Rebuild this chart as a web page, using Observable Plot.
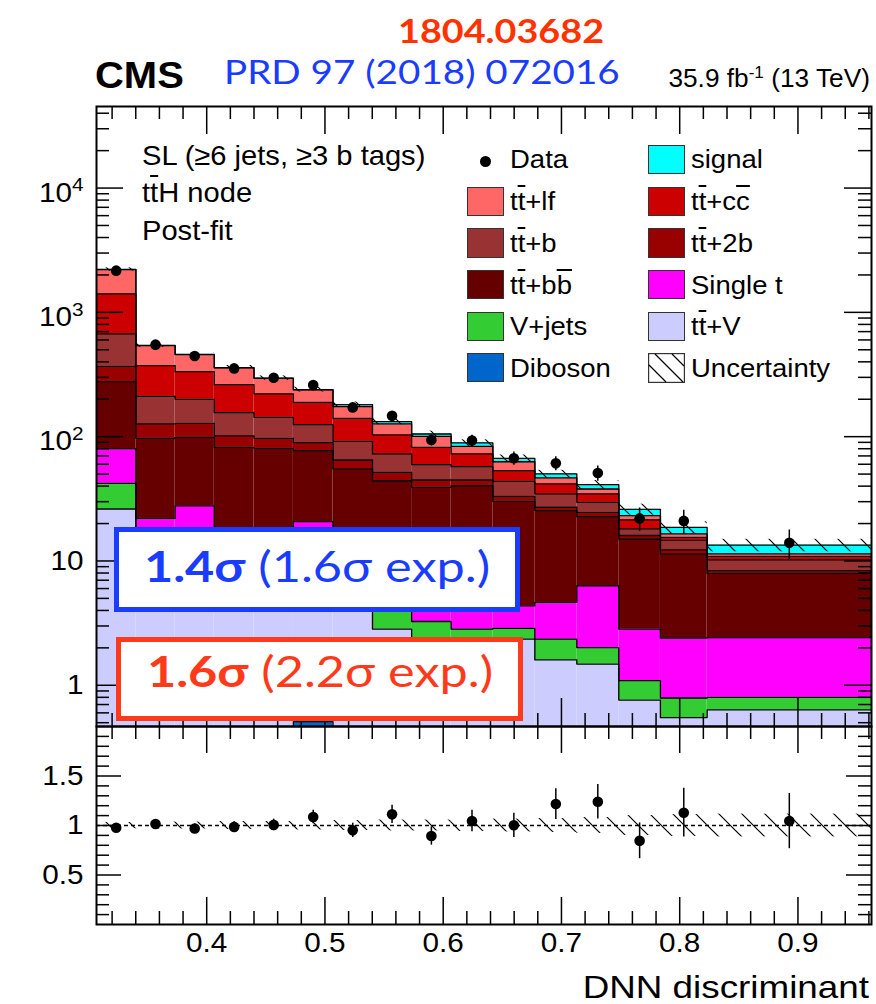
<!DOCTYPE html>
<html>
<head>
<meta charset="utf-8">
<script src="https://cdn.jsdelivr.net/npm/d3@7"></script>
<script src="https://cdn.jsdelivr.net/npm/@observablehq/plot@0.6"></script>
<style>
  html, body { margin: 0; padding: 0; background: #fff; }
  #wrap { position: relative; width: 876px; height: 1004px; overflow: hidden; background: #fff;
          font-family: "Liberation Sans", Arial, sans-serif; }
  #wrap svg.plotsvg { position: absolute; left: 0; }
  .abs { position: absolute; white-space: nowrap; line-height: 1; }
  .ob { text-decoration: overline; text-decoration-thickness: 1.5px; }
  .lbox { position: absolute; box-sizing: border-box; border: 1.2px solid #333; }
  .sbox { position: absolute; box-sizing: border-box; background: #fff; }
</style>
</head>
<body>
<div id="wrap"></div>
<svg width="0" height="0" style="position:absolute">
  <defs>
    <pattern id="hatch" patternUnits="userSpaceOnUse" width="23" height="23">
      <path d="M-3,-3 L26,26 M-3,20 L3,26 M20,-3 L26,3" stroke="#000" stroke-width="1.2" fill="none"/>
    </pattern>
  </defs>
</svg>
<script>
// ---------------- data ----------------
const binEdges = [0.3068, 0.3401, 0.3733, 0.4064, 0.4400, 0.4733, 0.5068, 0.5402, 0.5733,
                  0.6067, 0.6420, 0.6775, 0.7130, 0.7485, 0.7837, 0.8232, 0.9622];
// stacked yields, bottom to top
const yieldDiboson = [0.2, 0.2, 0.2, 0.2, 0.2, 0.51, 0.2, 0.2, 0.15, 0.15, 0.15, 0.1, 0.1, 0.1, 0.1, 0.1];
const yieldTTV     = [26.0, 9.8, 7.8, 7.3, 6.8, 6.0, 4.8, 2.63, 2.15, 2.05, 2.2, 1.5, 1.38, 0.66, 0.45, 0.535];
const yieldVJets   = [15.9, 4.0, 3.0, 2.5, 2.0, 2.5, 2.0, 2.17, 0.96, 0.63, 0.52, 0.75, 0.53, 0.33, 0.24, 0.165];
const yieldSingleT = [38.0, 8.0, 16.8, 5.0, 5.0, 11.7, 5.0, 4.0, 2.24, 1.77, 1.49, 2.29, 4.31, 1.74, 1.61, 1.62];
const yieldTTbb    = [196.9, 74.9, 70.9, 67.0, 66.5, 56.5, 43.0, 35.2, 33.6, 35.7, 25.8, 20.8, 16.4, 12.2, 9.0, 5.52];
const yieldTT2b    = [91, 29.7, 29.2, 19.3, 16.4, 12.3, 9.9, 7.4, 5.7, 4.5, 2.9, 1.6, 1.9, 1.0, 0.9, 0.41];
const yieldTTb     = [303, 84.4, 71.7, 54.8, 46.1, 35.4, 26.8, 21.0, 14.7, 12.6, 10.6, 7.6, 5.0, 2.1, 2.4, 1.85];
const yieldTTcc    = [737, 161.7, 133.9, 106.0, 77.7, 64.0, 48.7, 30.6, 22.5, 15.2, 9.6, 7.0, 5.0, 3.3, 0.8, 0.7];
const yieldTTlf    = [799, 167.3, 123.5, 95.1, 73.9, 48.7, 33.9, 23.4, 18.6, 10.9, 9.6, 4.9, 3.3, 1.7, 1.0, 0.5];
const yieldSignal  = [7, 2, 2, 1.8, 1.6, 1.8, 6.6, 5.5, 4.5, 5.5, 4.0, 3.6, 3.2, 2.9, 2.1, 2.0];
const dataCounts   = [2165, 550, 445, 354, 298, 260, 172, 147, 94, 93, 67, 61, 51, 22, 21, 14];
const relUncert    = [0.03, 0.035, 0.035, 0.04, 0.04, 0.045, 0.05, 0.055, 0.055, 0.06, 0.065, 0.07, 0.08, 0.10, 0.11, 0.115];

const processNames  = ["Diboson", "tt+V", "V+jets", "Single t", "tt+bb", "tt+2b", "tt+b", "tt+cc", "tt+lf", "signal"];
const processColors = ["#0066cc", "#ccccff", "#33cc33", "#ff00ff", "#660000", "#990000", "#993333", "#cc0000", "#ff6666", "#00ffff"];

const yMainTicks = [1, 10, 100, 1000, 10000];
const yMainLabels = ["1", "10", "10^2", "10^3", "10^4"];
const yRatioTicks = [0.5, 1, 1.5];
const yRatioLabels = ["0.5", "1", "1.5"];
const xTicks = [0.4, 0.5, 0.6, 0.7, 0.8, 0.9];
const xTickLabels = ["0.4", "0.5", "0.6", "0.7", "0.8", "0.9"];

// ---------------- build ----------------
const wrap = document.getElementById("wrap");
const nb = binEdges.length - 1;
const stackValues = [yieldDiboson, yieldTTV, yieldVJets, yieldSingleT, yieldTTbb, yieldTT2b, yieldTTb, yieldTTcc, yieldTTlf, yieldSignal];
const centers = d3.range(nb).map(i => (binEdges[i] + binEdges[i + 1]) / 2);

const rects = [];
const tops = [];
const cum = new Array(nb).fill(0);
stackValues.forEach((vals, j) => {
  for (let i = 0; i < nb; i++) {
    const lo = cum[i], hi = lo + vals[i];
    rects.push({x1: binEdges[i], x2: binEdges[i + 1], y1: lo > 0 ? lo : 1e-3, y2: hi, fill: processColors[j]});
    cum[i] = hi;
  }
  binEdges.forEach((e, i) => tops.push({x: e, y: cum[Math.min(i, nb - 1)], layer: j}));
});
const total = cum.slice();
const band = d3.range(nb).map(i => ({x1: binEdges[i], x2: binEdges[i + 1], y1: total[i] * (1 - relUncert[i]), y2: total[i] * (1 + relUncert[i])}));
const pts = d3.range(nb).map(i => ({
  x: centers[i], y: dataCounts[i],
  lo: dataCounts[i] - Math.sqrt(dataCounts[i]), hi: dataCounts[i] + Math.sqrt(dataCounts[i]),
  r: dataCounts[i] / total[i],
  rlo: (dataCounts[i] - Math.sqrt(dataCounts[i])) / total[i],
  rhi: (dataCounts[i] + Math.sqrt(dataCounts[i])) / total[i]
}));
const rband = d3.range(nb).map(i => ({x1: binEdges[i], x2: binEdges[i + 1], y1: 1 - relUncert[i], y2: 1 + relUncert[i]}));

const xDomain = [binEdges[0], binEdges[nb]];
const xMinor = d3.range(16, 49).map(k => k * 0.02).filter(v => v > xDomain[0] && v < xDomain[1] && !xTicks.some(t => Math.abs(t - v) < 1e-6));
const yMinor = [];
for (let k = -1; k <= 4; k++) for (let m = 2; m <= 9; m++) { const v = m * Math.pow(10, k); if (v > 0.466 && v < 45300) yMinor.push(v); }
const rMinor = d3.range(1, 20).map(k => k / 10).filter(v => !yRatioTicks.some(t => Math.abs(t - v) < 1e-6));

const W = 876, mL = 96, mR = 5;
const PW = W - mL - mR;
const font = "Liberation Sans, Arial, sans-serif";

// main panel
const mT = 106, mB = 10, mainH = 736;
const PH = mainH - mT - mB;
const main = Plot.plot({
  width: W, height: mainH, marginLeft: mL, marginRight: mR, marginTop: mT, marginBottom: mB,
  style: {fontFamily: font, fontSize: "27px", background: "transparent", overflow: "visible", color: "black"},
  x: {domain: xDomain, axis: null},
  y: {type: "log", domain: [0.466, 45300], axis: null},
  marks: [
    Plot.rect(rects, {x1: "x1", x2: "x2", y1: "y1", y2: "y2", fill: "fill", clip: true}),
    Plot.line(tops, {x: "x", y: "y", z: "layer", curve: "step-after", stroke: "black", strokeWidth: 1.3, clip: true}),
    Plot.rect(band, {x1: "x1", x2: "x2", y1: "y1", y2: "y2", fill: "url(#hatch)", clip: true}),
    Plot.ruleX(pts, {x: "x", y1: "lo", y2: "hi", stroke: "black", strokeWidth: 1.5, clip: true}),
    Plot.dot(pts, {x: "x", y: "y", r: 5.3, fill: "black", stroke: "none"}),
    // ticks (inside)
    Plot.tickY(yMainTicks, {y: d => d, insetRight: PW - 27, strokeWidth: 1.5}),
    Plot.tickY(yMainTicks, {y: d => d, insetLeft: PW - 27, strokeWidth: 1.5}),
    Plot.tickY(yMinor, {y: d => d, insetRight: PW - 13, strokeWidth: 1.5}),
    Plot.tickY(yMinor, {y: d => d, insetLeft: PW - 13, strokeWidth: 1.5}),
    Plot.tickX(xTicks, {x: d => d, insetTop: PH - 28, strokeWidth: 1.5}),
    Plot.tickX(xTicks, {x: d => d, insetBottom: PH - 28, strokeWidth: 1.5}),
    Plot.tickX(xMinor, {x: d => d, insetTop: PH - 13, strokeWidth: 1.5}),
    Plot.tickX(xMinor, {x: d => d, insetBottom: PH - 13, strokeWidth: 1.5}),
    Plot.text(yMainTicks.slice(0, 2), {y: d => d, text: (d, i) => yMainLabels[i], frameAnchor: "left", textAnchor: "end", dx: -13, fontSize: 27}),
    Plot.text(yMainTicks.slice(2), {y: d => d, text: (d, i) => yMainLabels[i + 2], frameAnchor: "left", textAnchor: "end", dx: -13, dy: 5, fontSize: 27}),
    Plot.frame({stroke: "black", strokeWidth: 2})
  ]
});
main.classList.add("plotsvg");
main.style.top = "0px";

// ratio panel
const rT = 10, rB = 80, ratioH = 288;
const RH = ratioH - rT - rB;
const ratio = Plot.plot({
  width: W, height: ratioH, marginLeft: mL, marginRight: mR, marginTop: rT, marginBottom: rB,
  style: {fontFamily: font, fontSize: "27px", background: "transparent", overflow: "visible", color: "black"},
  x: {domain: xDomain, axis: null},
  y: {domain: [0, 2], axis: null},
  marks: [
    Plot.rect(rband, {x1: "x1", x2: "x2", y1: "y1", y2: "y2", fill: "url(#hatch)", clip: true}),
    Plot.ruleY([1], {stroke: "black", strokeWidth: 1.3, strokeDasharray: "4,3"}),
    Plot.ruleX(pts, {x: "x", y1: "rlo", y2: "rhi", stroke: "black", strokeWidth: 1.5, clip: true}),
    Plot.dot(pts, {x: "x", y: "r", r: 5.3, fill: "black", stroke: "none"}),
    Plot.tickY(yRatioTicks, {y: d => d, insetRight: PW - 25, strokeWidth: 1.5}),
    Plot.tickY(yRatioTicks, {y: d => d, insetLeft: PW - 25, strokeWidth: 1.5}),
    Plot.tickY(rMinor, {y: d => d, insetRight: PW - 13, strokeWidth: 1.5}),
    Plot.tickY(rMinor, {y: d => d, insetLeft: PW - 13, strokeWidth: 1.5}),
    Plot.tickX(xTicks, {x: d => d, insetTop: RH - 27, strokeWidth: 1.5}),
    Plot.tickX(xTicks, {x: d => d, insetBottom: RH - 27, strokeWidth: 1.5}),
    Plot.tickX(xMinor, {x: d => d, insetTop: RH - 13, strokeWidth: 1.5}),
    Plot.tickX(xMinor, {x: d => d, insetBottom: RH - 13, strokeWidth: 1.5}),
    Plot.text(yRatioTicks, {y: d => d, text: (d, i) => yRatioLabels[i], frameAnchor: "left", textAnchor: "end", dx: -13, fontSize: 27}),
    Plot.text(xTicks, {x: d => d, text: (d, i) => xTickLabels[i], frameAnchor: "bottom", lineAnchor: "middle", dy: 19, fontSize: 27}),
    Plot.frame({stroke: "black", strokeWidth: 2})
  ]
});
ratio.classList.add("plotsvg");
ratio.style.top = (726 - rT) + "px";

// post-process text: superscripts and slight horizontal stretch (keeps Plot's own offsets)
const NS = "http://www.w3.org/2000/svg";
function fixTexts(svg, sx) {
  svg.querySelectorAll("text").forEach(t => {
    const s = t.textContent;
    if (s.includes("^")) {
      const [b, e] = s.split("^");
      t.textContent = "";
      const t1 = document.createElementNS(NS, "tspan"); t1.textContent = b;
      const t2 = document.createElementNS(NS, "tspan"); t2.textContent = e;
      t2.setAttribute("dy", "-0.55em"); t2.setAttribute("font-size", "0.7em");
      t.append(t1, t2);
    }
    const tr = t.getAttribute("transform") || "";
    t.setAttribute("transform", `${tr} scale(${sx},1)`);
  });
}
fixTexts(main, 1.1);
fixTexts(ratio, 1.1);
wrap.append(main, ratio);

// ---------------- overlays ----------------
function addText(html, o) {
  const d = document.createElement("div");
  d.className = "abs";
  d.innerHTML = html;
  const fs = o.fs, k = o.k ?? 0.8465, sx = o.sx ?? 1.08;
  d.style.fontSize = fs + "px";
  d.style.fontFamily = o.family || font;
  d.style.fontWeight = o.weight || 400;
  d.style.color = o.color || "#000";
  d.style.top = (o.base - k * fs) + "px";
  if (o.anchor === "end") {
    d.style.right = (W - o.x) + "px"; d.style.transformOrigin = "right center";
    d.style.transform = `scaleX(${sx})`;
  } else if (o.anchor === "middle") {
    d.style.left = o.x + "px";
    d.style.transform = `translateX(-50%) scaleX(${sx})`;
    d.style.transformOrigin = "center center";
  } else {
    d.style.left = o.x + "px"; d.style.transformOrigin = "left center";
    d.style.transform = `scaleX(${sx})`;
  }
  if (o.extra) Object.assign(d.style, o.extra);
  wrap.append(d);
  return d;
}
const tb = () => `t<span class="ob">t</span>`;
const humanist = "Lato, 'Open Sans', sans-serif";

// header
addText("CMS", {x: 95, base: 88, fs: 37, weight: 700, sx: 1.08});
addText("PRD 97 (2018) 072016", {x: 224, base: 84, fs: 33, family: humanist, color: "#1a3cff", k: 0.887, sx: 1.17});
addText("1804.03682", {x: 398, base: 43.5, fs: 32, weight: 700, family: humanist, color: "#ff3300", k: 0.887, sx: 1.18});
addText("35.9 fb<sup style='font-size:0.65em;vertical-align:0.55em'>-1</sup> (13 TeV)", {x: 870, base: 85, fs: 25, anchor: "end", sx: 1.05});

// category text
addText("SL (≥6 jets, ≥3 b tags)", {x: 142, base: 165.5, fs: 28, sx: 1.04});
addText(`${tb()}H node`, {x: 142, base: 203, fs: 28, sx: 1.04});
addText("Post-fit", {x: 142, base: 240.5, fs: 28, sx: 1.04});

// legend
const legendCol1 = [
  {label: "Data", kind: "dot"},
  {label: `${tb()}+lf`, color: "#ff6666"},
  {label: `${tb()}+b`, color: "#993333"},
  {label: `${tb()}+b<span class="ob">b</span>`, color: "#660000"},
  {label: "V+jets", color: "#33cc33"},
  {label: "Diboson", color: "#0066cc"}
];
const legendCol2 = [
  {label: "signal", color: "#00ffff"},
  {label: `${tb()}+c<span class="ob">c</span>`, color: "#cc0000"},
  {label: `${tb()}+2b`, color: "#990000"},
  {label: "Single t", color: "#ff00ff"},
  {label: `${tb()}+V`, color: "#ccccff"},
  {label: "Uncertainty", kind: "hatch"}
];
const rowCenters = [159.5, 201.3, 243, 284.7, 326.3, 367.8];
function legendColumn(items, boxX, textX) {
  items.forEach((it, i) => {
    const cy = rowCenters[i];
    if (it.kind === "dot") {
      const dot = document.createElement("div");
      Object.assign(dot.style, {position: "absolute", left: (boxX + 18.3 - 5.5) + "px", top: (cy + 2 - 5.5) + "px",
        width: "11px", height: "11px", borderRadius: "50%", background: "#000"});
      wrap.append(dot);
    } else if (it.kind === "hatch") {
      const s = document.createElementNS(NS, "svg");
      s.setAttribute("width", 37); s.setAttribute("height", 30);
      Object.assign(s.style, {position: "absolute", left: boxX + "px", top: (cy - 15) + "px"});
      s.innerHTML = `<rect x="0.6" y="0.6" width="35.8" height="28.8" fill="#fff" stroke="#333" stroke-width="1.2"/>
        <path d="M1,12 L18,29 M7,1 L35,29 M24,1 L36,13" stroke="#000" stroke-width="1.2" fill="none"/>`;
      wrap.append(s);
    } else {
      const b = document.createElement("div");
      b.className = "lbox";
      Object.assign(b.style, {left: boxX + "px", top: (cy - 14.7) + "px", width: "37px", height: "29.4px", background: it.color});
      wrap.append(b);
    }
    addText(it.label, {x: textX, base: cy + 9, fs: 25, sx: 1.1});
  });
}
legendColumn(legendCol1, 467, 510);
legendColumn(legendCol2, 648, 691);

// significance boxes
function sigBox(x, y, w, h, color, html, base) {
  const b = document.createElement("div");
  b.className = "sbox";
  Object.assign(b.style, {left: x + "px", top: y + "px", width: w + "px", height: h + "px", border: `5px solid ${color}`});
  wrap.append(b);
  addText(html, {x: x + w / 2, base: base, fs: 42, family: humanist, color: color, k: 0.887, sx: 1.2, anchor: "middle"});
}
sigBox(114, 527, 406, 85, "#1a3cff", "<b>1.4σ</b> (1.6σ exp.)", 582);
sigBox(116, 636.5, 407, 84, "#ff3a1a", "<b>1.6σ</b> (2.2σ exp.)", 687);

// x-axis title
addText("DNN discriminant", {x: 869, base: 998, fs: 32, anchor: "end", sx: 1.15});
</script>
</body>
</html>
